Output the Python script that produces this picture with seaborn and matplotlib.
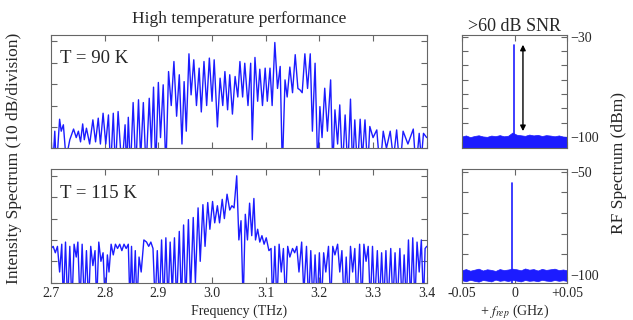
import numpy as np
import pandas as pd
import matplotlib
matplotlib.use("Agg")
import matplotlib.pyplot as plt
import seaborn as sns

# ---- optical spectra (THz, dB relative to strongest mode) ----
freq_90K = [2.700, 2.703, 2.707, 2.710, 2.716, 2.719, 2.723, 2.728, 2.735, 2.742,
            2.747, 2.751, 2.755, 2.759, 2.762, 2.766, 2.772, 2.778, 2.783, 2.788,
            2.792, 2.797, 2.802, 2.807, 2.811, 2.816, 2.820, 2.825, 2.832, 2.838,
            2.841, 2.844, 2.848, 2.853, 2.858, 2.863, 2.867, 2.872, 2.877, 2.883,
            2.887, 2.891, 2.895, 2.900, 2.904, 2.909, 2.914, 2.919, 2.924, 2.929,
            2.934, 2.939, 2.944, 2.948, 2.952, 2.957, 2.961, 2.966, 2.971, 2.976,
            2.980, 2.985, 2.990, 2.995, 3.000, 3.004, 3.010, 3.015, 3.020, 3.024,
            3.029, 3.033, 3.038, 3.043, 3.048, 3.052, 3.057, 3.061, 3.067, 3.072,
            3.075, 3.080, 3.085, 3.089, 3.094, 3.099, 3.103, 3.108, 3.112, 3.117,
            3.122, 3.127, 3.131, 3.136, 3.140, 3.145, 3.150, 3.155, 3.160, 3.164,
            3.168, 3.173, 3.178, 3.183, 3.187, 3.192, 3.197, 3.201, 3.205, 3.210,
            3.215, 3.221, 3.225, 3.229, 3.234, 3.238, 3.243, 3.248, 3.253, 3.258,
            3.262, 3.266, 3.271, 3.276, 3.280, 3.285, 3.290, 3.294, 3.300, 3.307,
            3.313, 3.319, 3.325, 3.332, 3.338, 3.344, 3.350, 3.356, 3.365, 3.375,
            3.380, 3.386, 3.390, 3.394, 3.400]
level_90K = [-44, -60, -42, -60, -36.4, -42, -39, -55, -46, -41,
             -45, -42, -47, -38.6, -46, -40.6, -48, -36.7, -47, -35.9,
             -48, -33.6, -48, -34.4, -60, -33.6, -60, -32.8, -60, -39,
             -60, -35.5, -60, -28.6, -60, -27.3, -55, -28.6, -60, -26.6,
             -50, -21.4, -60, -19.2, -45, -20.3, -60, -14.1, -30, -9.4,
             -35, -15.6, -48, -18.8, -42, -5.8, -25, -8.6, -30, -12.5,
             -33, -9.4, -30, -7.8, -28, -8.6, -40, -17.2, -30, -14.1,
             -32, -15.6, -34, -16.4, -26, -9.4, -26, -10.2, -30, -10.2,
             -46, -7.5, -28, -13, -30, -12.5, -28, -12.5, -30, -0.5,
             -22, -11.7, -60, -18, -26, -12, -24, -6.2, -22, -22.7,
             -24, -5.8, -22, -5.8, -42, -10.2, -60, -30.5, -45, -21.9,
             -42, -18, -60, -32, -48, -29.7, -60, -34.4, -60, -27,
             -60, -36.7, -60, -36.4, -55, -36.7, -60, -39.8, -45, -41.4,
             -60, -42, -50, -42, -55, -41.4, -60, -42, -48, -41,
             -60, -43, -55, -43, -45]

freq_115K = [2.700, 2.704, 2.708, 2.712, 2.716, 2.720, 2.723, 2.727, 2.731, 2.735,
             2.739, 2.743, 2.747, 2.750, 2.754, 2.758, 2.762, 2.766, 2.770, 2.774,
             2.778, 2.782, 2.785, 2.789, 2.793, 2.797, 2.801, 2.805, 2.808, 2.812,
             2.816, 2.820, 2.824, 2.828, 2.832, 2.836, 2.840, 2.844, 2.847, 2.850,
             2.853, 2.857, 2.860, 2.864, 2.868, 2.873, 2.878, 2.882, 2.886, 2.890,
             2.894, 2.898, 2.902, 2.906, 2.910, 2.914, 2.918, 2.922, 2.926, 2.930,
             2.934, 2.939, 2.943, 2.947, 2.951, 2.956, 2.960, 2.965, 2.969, 2.974,
             2.978, 2.983, 2.987, 2.992, 2.996, 3.001, 3.005, 3.010, 3.014, 3.019,
             3.023, 3.028, 3.033, 3.037, 3.041, 3.046, 3.050, 3.054, 3.058, 3.062,
             3.066, 3.070, 3.074, 3.078, 3.081, 3.085, 3.089, 3.093, 3.097, 3.101,
             3.106, 3.110, 3.113, 3.117, 3.121, 3.125, 3.129, 3.133, 3.137, 3.141,
             3.145, 3.150, 3.154, 3.158, 3.162, 3.167, 3.171, 3.176, 3.180, 3.184,
             3.188, 3.192, 3.196, 3.200, 3.204, 3.208, 3.212, 3.217, 3.221, 3.225,
             3.229, 3.234, 3.238, 3.242, 3.246, 3.250, 3.254, 3.258, 3.262, 3.266,
             3.270, 3.275, 3.279, 3.283, 3.287, 3.291, 3.295, 3.299, 3.303, 3.308,
             3.312, 3.316, 3.320, 3.324, 3.328, 3.333, 3.337, 3.341, 3.345, 3.350,
             3.354, 3.358, 3.362, 3.366, 3.370, 3.374, 3.378, 3.382, 3.386, 3.390,
             3.394, 3.397, 3.400]
level_115K = [-34, -33, -36, -33, -45, -32, -60, -31, -60, -33,
              -60, -32, -38, -31, -60, -32, -60, -35, -60, -33,
              -42, -35, -60, -31, -40, -36, -60, -37, -45, -32,
              -37, -32, -34, -32, -35, -32, -34, -32, -60, -33,
              -60, -35, -60, -38, -45, -30, -31, -33, -31, -34,
              -60, -35, -60, -30, -60, -29, -60, -31, -55, -29,
              -60, -26, -60, -23, -60, -20.5, -55, -19.5, -50, -15,
              -40, -13.5, -33, -12.5, -25, -12, -22, -14, -22, -11,
              -20, -8.6, -16, -14, -15, 0, -30, -21, -60, -18,
              -30, -12.8, -28, -10.6, -30, -25, -31, -28, -32, -29,
              -35, -34, -60, -33, -60, -32, -45, -34, -60, -33,
              -38, -34, -36, -33, -45, -31, -55, -33, -60, -35,
              -60, -37, -60, -36, -60, -36, -45, -33, -60, -33,
              -37, -32, -45, -35, -60, -38, -60, -33, -45, -34,
              -60, -32, -60, -32, -40, -33, -60, -33, -60, -35,
              -60, -36, -60, -35, -60, -34, -60, -36, -60, -34,
              -60, -37, -60, -30, -60, -29, -60, -31, -45, -30,
              -60, -34, -33]

freq_ticks = [2.7, 2.8, 2.9, 3.0, 3.1, 3.2, 3.3, 3.4]
db_ticks = [-50, -40, -30, -20, -10, 0]

# ---- RF beat-note spectra (GHz offset, dBm) ----
rf_offset = np.linspace(-0.05, 0.05, 26)
rf90_floor_top = [-99.8, -99.0, -100.2, -99.4, -98.9, -99.7, -100.0, -99.1, -99.5, -98.8,
                  -99.6, -99.2, -97.0, -98.5, -98.9, -99.3, -98.4, -99.0, -98.6, -99.4,
                  -98.8, -99.1, -99.6, -99.0, -99.8, -100.0]
rf90_floor_bottom = [-110] * 26
rf115_floor_top = [-97.8, -97.2, -98.0, -97.5, -97.0, -97.9, -97.3, -97.6, -98.1, -97.2,
                   -97.7, -97.4, -97.0, -97.3, -97.8, -96.9, -97.5, -97.2, -97.9, -97.1,
                   -97.6, -97.3, -97.0, -97.7, -97.4, -97.8]
rf115_floor_bottom = [-102.6, -103.1, -102.4, -102.9, -103.3, -102.5, -102.8, -103.2, -102.3, -102.9,
                      -102.6, -103.0, -102.4, -102.8, -103.2, -102.5, -102.9, -102.7, -103.1, -102.4,
                      -102.8, -103.0, -102.5, -102.9, -102.6, -103.0]
rf90_peak_x = [-0.0008, -0.0008]
rf90_peak_y = [-110, -35.6]
rf115_peak_x = [-0.002, -0.002]
rf115_peak_y = [-104, -55.7]
rf_xticks = [-0.05, 0, 0.05]
rf_xlabels = ['-0.05', '0', '+0.05']
rf90_yticks = [-100, -90, -80, -70, -60, -50, -40, -30]
rf90_ylabels = ['\u2212100', '', '', '', '', '', '', '\u221230']
rf115_yticks = [-100, -90, -80, -70, -60, -50]
rf115_ylabels = ['\u2212100', '', '', '', '', '\u221250']
snr_arrow_x = 0.008
snr_arrow_y = [-96, -35.6]

sns.set_theme(style='ticks')
plt.rcParams['font.family'] = ['Liberation Serif', 'DejaVu Serif']
plt.rcParams['mathtext.fontset'] = 'stix'

blue = '#1c1cff'
frame = '#666666'

fig = plt.figure(figsize=(6.33, 3.2), dpi=100)
ax_t = fig.add_axes([0.0806, 0.5366, 0.5935, 0.354])
ax_b = fig.add_axes([0.0806, 0.1166, 0.5935, 0.354])
ax_rt = fig.add_axes([0.7294, 0.5366, 0.1668, 0.354])
ax_rb = fig.add_axes([0.7294, 0.1166, 0.1668, 0.354])

for ax, f, l, lab in [(ax_t, freq_90K, level_90K, 'T = 90 K'),
                      (ax_b, freq_115K, level_115K, 'T = 115 K')]:
    sns.lineplot(x=f, y=l, ax=ax, color=blue, lw=1.0, sort=False, estimator=None)
    ax.set_xlim(2.7, 3.4)
    ax.set_ylim(-50, 3)
    ax.set_xticks(freq_ticks)
    ax.set_yticks(db_ticks)
    ax.set_yticklabels([])
    ax.text(0.025, 0.79, lab, transform=ax.transAxes, fontsize=13.5, va='center', ha='left')

ax_t.set_xticklabels([])
ax_b.set_xticklabels([f'{v:.1f}' for v in freq_ticks])
ax_b.set_xlabel('Frequency (THz)', fontsize=10, labelpad=3)
ax_t.set_title('High temperature performance', fontsize=12.5, pad=9)

# RF panels
ax_rt.fill_between(rf_offset, rf90_floor_bottom, rf90_floor_top, color=blue, lw=0.5)
sns.lineplot(x=rf90_peak_x, y=rf90_peak_y, ax=ax_rt, color=blue, lw=1.2, sort=False, estimator=None)
ax_rt.set_ylim(-108, -28.8)
ax_rt.set_yticks(rf90_yticks)
ax_rt.set_yticklabels(rf90_ylabels)
ax_rt.set_xticklabels([]) if False else None
ax_rt.annotate('', xy=(snr_arrow_x, snr_arrow_y[1]), xytext=(snr_arrow_x, snr_arrow_y[0]),
               arrowprops=dict(arrowstyle='<|-|>', color='black', lw=1.0, mutation_scale=8,
                               shrinkA=0, shrinkB=0))
ax_rt.set_title('>60 dB SNR', fontsize=13, pad=1)

ax_rb.fill_between(rf_offset, rf115_floor_bottom, rf115_floor_top, color=blue, lw=0.5)
sns.lineplot(x=rf115_peak_x, y=rf115_peak_y, ax=ax_rb, color=blue, lw=1.2, sort=False, estimator=None)
ax_rb.set_ylim(-103.8, -48.9)
ax_rb.set_yticks(rf115_yticks)
ax_rb.set_yticklabels(rf115_ylabels)
ax_rb.set_xlabel(r'+ $f_{rep}$ (GHz)', fontsize=10, labelpad=2)

for ax in [ax_rt, ax_rb]:
    ax.set_xlim(-0.05, 0.05)
    ax.set_xticks(rf_xticks)
    ax.tick_params(axis='y', left=True, right=True, labelleft=False, labelright=True, pad=2)
ax_rt.set_xticklabels([])
ax_rb.set_xticklabels(rf_xlabels)

for ax in [ax_t, ax_b, ax_rt, ax_rb]:
    ax.tick_params(direction='in', length=4, width=0.8, color=frame, labelsize=10,
                   top=True, right=True, pad=3)
    for s in ax.spines.values():
        s.set_color(frame)
        s.set_linewidth(0.8)
ax_rt.tick_params(axis='y', pad=2)
ax_rb.tick_params(axis='y', pad=2)

fig.text(0.022, 0.505, 'Intensity Spectrum (10 dB/division)', rotation=90,
         ha='center', va='center', fontsize=12.5)
fig.text(0.978, 0.49, 'RF Spectrum (dBm)', rotation=90,
         ha='center', va='center', fontsize=12.5)

fig.savefig('out.png', dpi=100)
